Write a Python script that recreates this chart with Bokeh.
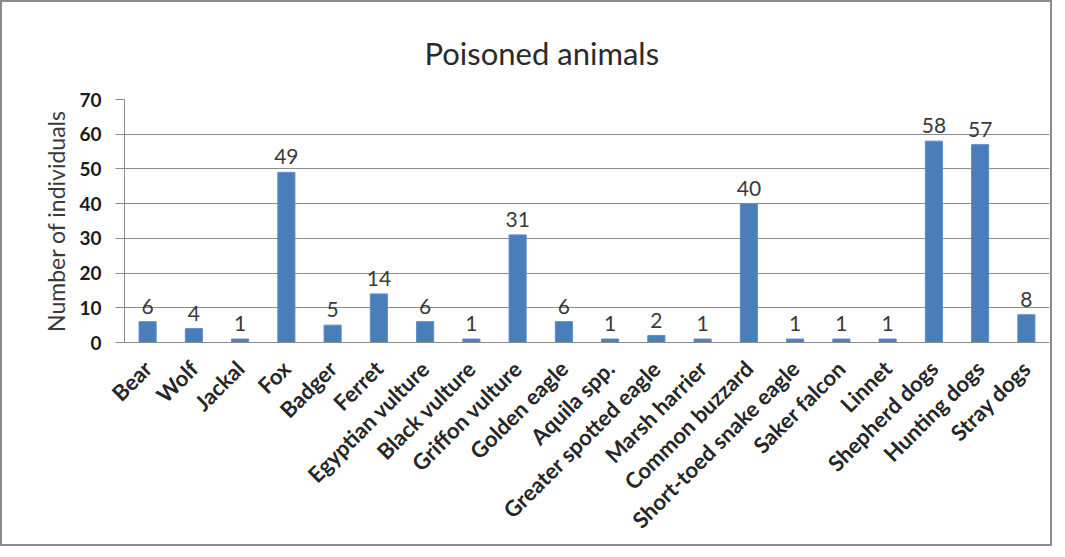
import math
from bokeh.plotting import figure
from bokeh.models import ColumnDataSource, Range1d, FactorRange
from bokeh.embed import file_html
from bokeh.resources import INLINE
from bokeh.core.properties import value

animals = ["Bear", "Wolf", "Jackal", "Fox", "Badger", "Ferret", "Egyptian vulture",
           "Black vulture", "Griffon vulture", "Golden eagle", "Aquila spp.",
           "Greater spotted eagle", "Marsh harrier", "Common buzzard",
           "Short-toed snake eagle", "Saker falcon", "Linnet", "Shepherd dogs",
           "Hunting dogs", "Stray dogs"]
counts = [6, 4, 1, 49, 5, 14, 6, 1, 31, 6, 1, 2, 1, 40, 1, 1, 1, 58, 57, 8]
y_ticks = [0, 10, 20, 30, 40, 50, 60, 70]

FONT = "Lato"

src = ColumnDataSource(dict(animal=animals, count=counts, label=[str(c) for c in counts]))

p = figure(x_range=FactorRange(factors=animals, range_padding=0),
           y_range=Range1d(0, 70),
           width=1052, height=546,
           output_backend="svg", toolbar_location=None,
           min_border_left=122, min_border_right=5,
           min_border_top=97, min_border_bottom=206)

p.styles = {"border": "2px solid #8c8c8c"}

p.vbar(x="animal", top="count", width=0.37, source=src,
       fill_color="#4A7EBB", line_color="#5B8DCB", line_width=1)

p.text(x="animal", y="count", text="label", source=src,
       y_offset=-8, text_align="center", text_baseline="bottom",
       text_font=value(FONT), text_font_size="21px", text_color="#3a3a3a")

p.title.text = "Poisoned animals"
p.title.align = "left"
p.title.offset = 300
p.title.text_font = FONT
p.title.text_font_size = "31px"
p.title.text_font_style = "normal"
p.title.text_color = "#2a2a2a"
p.title.standoff = 56

p.outline_line_color = None
p.xgrid.grid_line_color = None
p.ygrid.grid_line_color = "#8c8c8c"
p.ygrid.grid_line_width = 1

p.yaxis.ticker = y_ticks
p.yaxis.axis_label = "Number of individuals"
p.yaxis.axis_label_text_font = FONT
p.yaxis.axis_label_text_font_size = "23px"
p.yaxis.axis_label_text_font_style = "normal"
p.yaxis.axis_label_text_color = "#3a3a3a"
p.yaxis.axis_label_standoff = 6
p.yaxis.major_label_text_font = FONT
p.yaxis.major_label_text_font_size = "19px"
p.yaxis.major_label_text_font_style = "bold"
p.yaxis.major_label_text_color = "#1a1a1a"
p.yaxis.major_label_standoff = 14
p.yaxis.major_tick_out = 9
p.yaxis.major_tick_in = 0
p.yaxis.minor_tick_line_color = None
p.yaxis.major_tick_line_color = "#8c8c8c"
p.yaxis.axis_line_color = "#8c8c8c"

p.xaxis.major_label_orientation = math.pi / 4
p.xaxis.major_label_text_font = FONT
p.xaxis.major_label_text_font_size = "22px"
p.xaxis.major_label_text_font_style = "bold"
p.xaxis.major_label_text_color = "#262626"
p.xaxis.major_label_standoff = 16
p.xaxis.major_tick_line_color = None
p.xaxis.axis_line_color = "#8c8c8c"

open("out.html", "w").write(file_html(p, INLINE))
